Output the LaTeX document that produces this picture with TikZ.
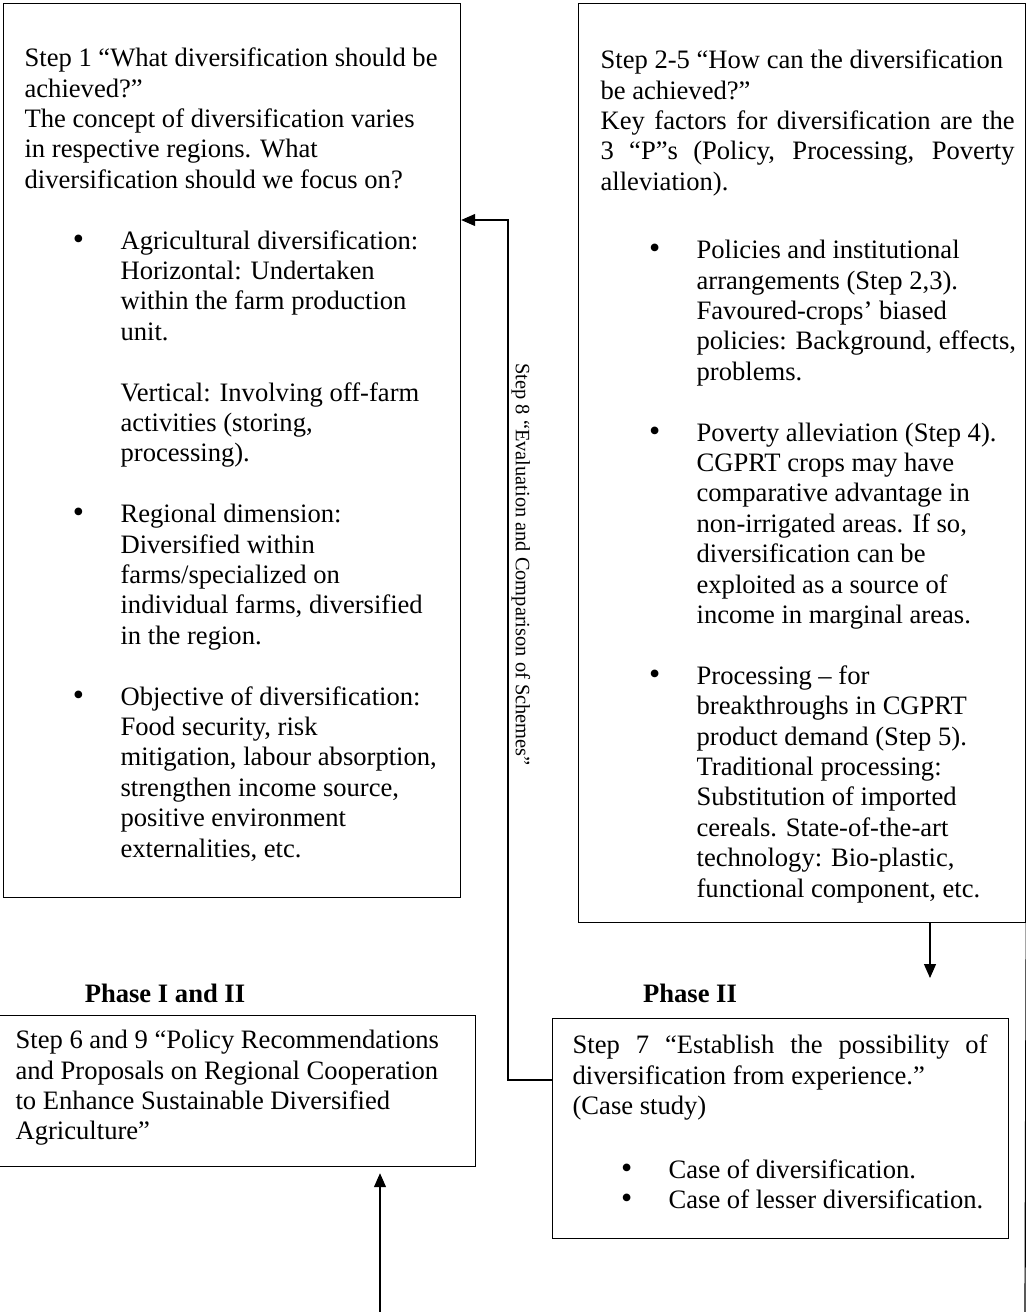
\documentclass[tikz,border=0pt]{standalone}
\usepackage{fontspec}
\setmainfont{Liberation Serif}
\usepackage{tikz}
\usetikzlibrary{arrows.meta}

\newlength{\padl}
\newcommand{\bodyfont}{\fontsize{13.3pt}{15.2pt}\selectfont\lineskiplimit=-20pt\relax}
\newcommand{\boxstart}[3]{\bodyfont\setlength{\padl}{#1}\leftskip=\padl\rightskip=#2\relax\vspace*{#3}\strut}
\newcommand{\gapline}[1][1]{\par\vspace{#1\baselineskip}}
\newcommand{\bigdot}{{\fontsize{16pt}{16pt}\selectfont\textbullet}}
\newcommand{\bitem}[1]{{\leftskip=\dimexpr\padl+48pt\relax\rightskip=0pt\strut\llap{\bigdot\hskip 18.2pt}#1\par}}
\newcommand{\bcont}[1]{{\leftskip=\dimexpr\padl+48pt\relax\rightskip=0pt\strut#1\par}}

\tikzset{
  stepbox/.style={draw, line width=0.6pt, inner sep=0pt, anchor=north west, font=\bodyfont},
  phasehead/.style={font=\bodyfont\bfseries, inner sep=0pt},
  evallabel/.style={font=\fontsize{10.2pt}{12pt}\selectfont, inner sep=0pt, rotate=-90, anchor=west},
  flow/.style={line width=0.6pt}
}

\begin{document}
\begin{tikzpicture}[x=0.5pt, y=-0.5pt, >={Triangle[length=7pt,width=6pt]}]
    \useasboundingbox (0,0) rectangle (1026,1312);

    % Step 1 box
    \node[stepbox] (whatbox) at (3,3) {\parbox[t][447pt][t]{228.5pt}{\boxstart{10.5pt}{0pt}{20.86pt}%
        Step 1 “What diversification should be\\
        achieved?”\\
        The concept of diversification varies\\
        in respective regions. What\\
        diversification should we focus on?
        \gapline
        \bitem{Agricultural diversification:\\ Horizontal: Undertaken\\ within the farm production\\ unit.}
        \gapline
        \bcont{Vertical: Involving off-farm\\ activities (storing,\\ processing).}
        \gapline
        \bitem{Regional dimension:\\ Diversified within\\ farms/specialized on\\ individual farms, diversified\\ in the region.}
        \gapline
        \bitem{Objective of diversification:\\ Food security, risk\\ mitigation, labour absorption,\\ strengthen income source,\\ positive environment\\ externalities, etc.}
    }};

    % Step 2-5 box
    \node[stepbox] (howbox) at (578,3) {\parbox[t][459.5pt][t]{223.5pt}{\boxstart{11pt}{5.5pt}{21.86pt}%
        Step 2-5 “How can the diversification\\
        be achieved?”\\
        Key factors for diversification are the\linebreak
        3 “P”s (Policy, Processing, Poverty\linebreak
        alleviation).
        \gapline[1.25]
        \bitem{Policies and institutional\\ arrangements (Step 2,3).\\ Favoured-crops’ biased\\ policies: Background, effects,\\ problems.}
        \gapline
        \bitem{Poverty alleviation (Step 4).\\ CGPRT crops may have\\ comparative advantage in\\ non-irrigated areas. If so,\\ diversification can be\\ exploited as a source of\\ income in marginal areas.}
        \gapline
        \bitem{Processing – for\\ breakthroughs in CGPRT\\ product demand (Step 5).\\ Traditional processing:\\ Substitution of imported\\ cereals. State-of-the-art\\ technology: Bio-plastic,\\ functional component, etc.}
    }};

    % Phase headings
    \node[phasehead] (phaseone) at (165,993) {Phase I and II};
    \node[phasehead] (phasetwo) at (690,993) {Phase II};

    % Step 6 and 9 box
    \node[stepbox] (policybox) at (-2,1015) {\parbox[t][75.5pt][t]{238.5pt}{\boxstart{8.5pt}{0pt}{5.86pt}%
        Step 6 and 9 “Policy Recommendations\\
        and Proposals on Regional Cooperation\\
        to Enhance Sustainable Diversified\\
        Agriculture”
    }};

    % Step 7 box
    \node[stepbox] (casebox) at (552,1018) {\parbox[t][110pt][t]{228pt}{\boxstart{10pt}{10.5pt}{6.86pt}%
        Step 7 “Establish the possibility of\linebreak
        diversification from experience.”\\
        (Case study)
        \gapline[1.1]
        \bitem{Case of diversification.}
        \bitem{Case of lesser diversification.}
    }};

    % Step 8 feedback line
    \coordinate (evalbend) at (508,1080);
    \coordinate (evaltop) at (508,220);
    \draw[flow,->] (evalbend -| casebox.west) -- (evalbend) -- (evaltop) -- (evaltop -| whatbox.east);
    \node[evallabel] (evaltext) at (521,363) {Step 8 “Evaluation and Comparison of Schemes”};

    % Steps 2-5 down to step 7
    \coordinate (casein) at (930,978);
    \draw[flow,->] (casein |- howbox.south) -- (casein);

    % Loop back up to step 6 and 9
    \coordinate (loopend) at (1025,1312);
    \coordinate (loopstart) at (380,1312);
    \draw[flow] (howbox.south east) -- (loopend);
    \draw[flow,->,shorten >=3pt] (loopstart) -- (loopstart |- policybox.south);
\end{tikzpicture}
\end{document}
